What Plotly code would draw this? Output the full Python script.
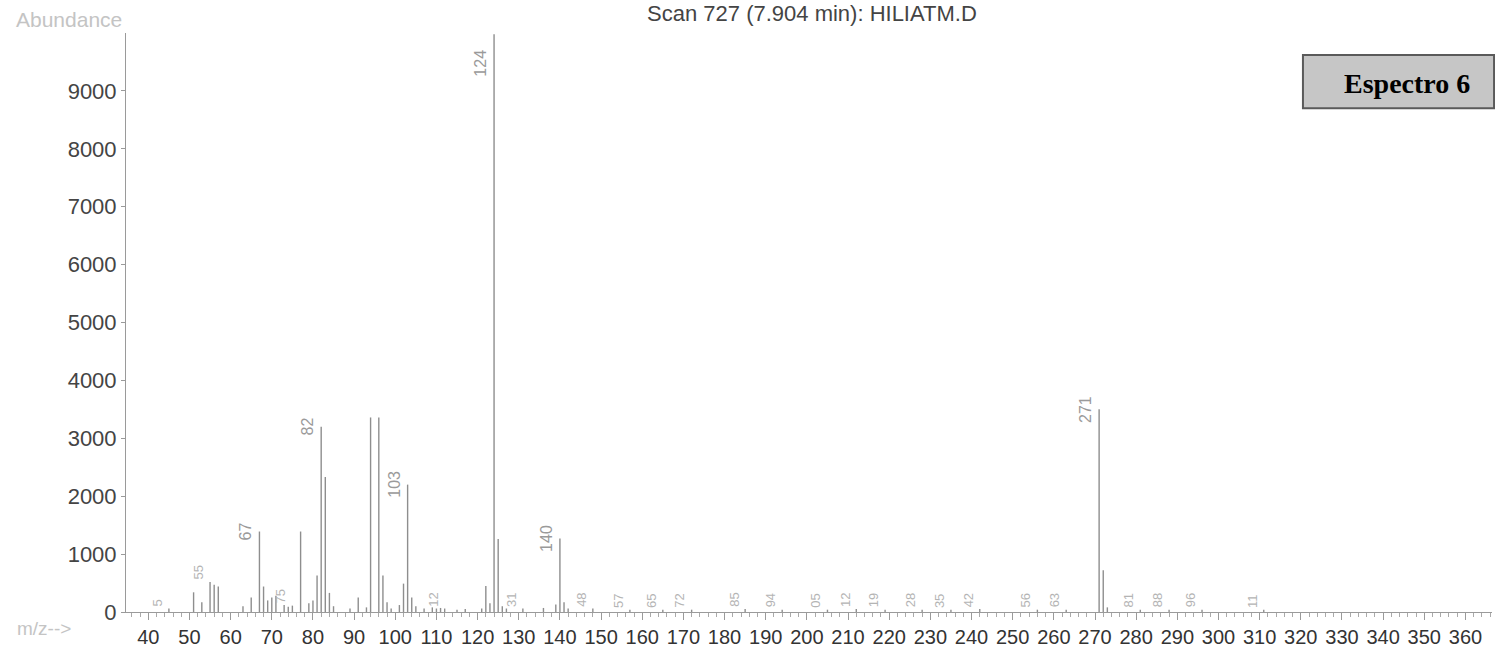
import plotly.graph_objects as go

# ---- data ----
mz = [45, 51, 53, 55, 56, 57, 63, 65, 67, 68, 69, 70, 71, 73, 74, 75, 77, 79, 80, 81,
      82, 83, 84, 85, 89, 91, 93, 94, 96, 97, 98, 99, 101, 102, 103, 104, 105, 107,
      109, 110, 111, 112, 115, 117, 121, 122, 123, 124, 125, 126, 127, 131, 136, 139,
      140, 141, 142, 148, 157, 165, 172, 185, 194, 205, 212, 219, 228, 235, 242, 256,
      263, 271, 272, 273, 281, 288, 296, 311]
abundance = [60, 340, 170, 520, 470, 440, 100, 250, 1390, 440, 200, 250, 280, 120, 90, 110, 1390, 150, 200, 630,
             3200, 2330, 330, 100, 60, 250, 80, 3360, 3360, 630, 170, 60, 120, 490, 2200, 250, 100, 60,
             80, 60, 70, 60, 40, 50, 60, 450, 150, 9980, 1260, 100, 60, 60, 70, 130,
             1270, 170, 60, 60, 40, 40, 40, 50, 40, 40, 50, 40, 40, 40, 50, 40,
             40, 3500, 720, 80, 40, 40, 40, 40]

big_label_mz = [67, 82, 103, 124, 140, 271]
big_label_text = ["67", "82", "103", "124", "140", "271"]
small_label_mz = [45, 55, 75, 112, 131, 148, 157, 165, 172, 185, 194, 205, 212, 219,
                  228, 235, 242, 256, 263, 281, 288, 296, 311]
small_label_text = ["5", "55", "75", "12", "31", "48", "57", "65", "72", "85", "94", "05", "12", "19",
                    "28", "35", "42", "56", "63", "81", "88", "96", "11"]

x_ticks = list(range(40, 361, 10))
y_ticks = list(range(0, 9001, 1000))

title_text = "Scan 727 (7.904 min): HILIATM.D"
badge_text = "Espectro 6"

# ---- build stick spectrum ----
xs, ys = [], []
for m, a in zip(mz, abundance):
    xs += [m, m, None]
    ys += [0, a, None]

fig = go.Figure()
fig.add_trace(go.Scatter(x=xs, y=ys, mode="lines",
                         line=dict(color="#8e8e8e", width=1.4),
                         hoverinfo="skip", showlegend=False))

ab = dict(zip(mz, abundance))
annotations = []
for m, t in zip(big_label_mz, big_label_text):
    v = ab[m]
    annotations.append(dict(x=m, y=min(v, 9480), xref="x", yref="y", text=t,
                            textangle=-90, showarrow=False, xanchor="right",
                            yanchor="middle", xshift=-3,
                            font=dict(family="Liberation Sans", size=16, color="#9a9a9a")))
for m, t in zip(small_label_mz, small_label_text):
    v = ab[m]
    annotations.append(dict(x=m, y=v, xref="x", yref="y", text=t,
                            textangle=-90, showarrow=False, xanchor="right",
                            yanchor="bottom", xshift=-2,
                            font=dict(family="Liberation Sans", size=13, color="#b4b4b4")))

annotations.append(dict(text="Abundance", xref="paper", yref="paper",
                        x=-0.0417, y=1.0225, xanchor="center", yanchor="middle",
                        showarrow=False,
                        font=dict(family="Liberation Sans", size=21, color="#c4c4c4")))
annotations.append(dict(text="m/z-->", xref="paper", yref="paper",
                        x=-0.0600, y=-0.0285, xanchor="center", yanchor="middle",
                        showarrow=False,
                        font=dict(family="Liberation Sans", size=19, color="#c4c4c4")))
annotations.append(dict(text="<b>" + badge_text + "</b>", xref="paper", yref="paper",
                        x=0.938, y=0.913, xanchor="center", yanchor="middle",
                        showarrow=False,
                        font=dict(family="Liberation Serif", size=28, color="#000000")))

shapes = [dict(type="rect", xref="paper", yref="paper",
               x0=0.8616, x1=1.0015, y0=0.870, y1=0.962,
               fillcolor="#c6c6c6", line=dict(color="#5a5a5a", width=2), layer="below")]

xr = [34.58, 366.45]

fig.update_layout(
    width=1495, height=652,
    margin=dict(l=126, r=3, t=33, b=40),
    paper_bgcolor="white", plot_bgcolor="white",
    title=dict(text=title_text, x=0.5431, xref="container", xanchor="center",
               y=0.980, yref="container", yanchor="middle",
               font=dict(family="Liberation Sans", size=22, color="#444444")),
    xaxis=dict(range=xr, tickvals=x_ticks, ticktext=[str(v) for v in x_ticks],
               showgrid=False, zeroline=False, showline=True, linecolor="#9a9a9a",
               linewidth=1, ticks="outside", ticklen=7, tickcolor="#9a9a9a", tickwidth=1,
               minor=dict(dtick=2, tick0=0, ticks="outside", ticklen=4,
                          tickcolor="#aaaaaa", tickwidth=1),
               tickfont=dict(family="Liberation Sans", size=20, color="#333333")),
    xaxis2=dict(range=xr, overlaying="x", anchor="y", side="bottom",
                showgrid=False, zeroline=False, showline=False, showticklabels=False,
                tickvals=x_ticks, ticks="inside", ticklen=7, tickcolor="#9a9a9a", tickwidth=1,
                minor=dict(dtick=2, tick0=0, ticks="inside", ticklen=3,
                           tickcolor="#aaaaaa", tickwidth=1)),
    yaxis=dict(range=[0, 10000], tickvals=y_ticks, showgrid=False, zeroline=False,
               showline=True, linecolor="#9a9a9a", linewidth=1,
               ticks="outside", ticklen=4, tickcolor="#9a9a9a",
               tickfont=dict(family="Liberation Sans", size=22, color="#444444")),
    annotations=annotations,
    shapes=shapes,
)

fig.write_html("out.html")
